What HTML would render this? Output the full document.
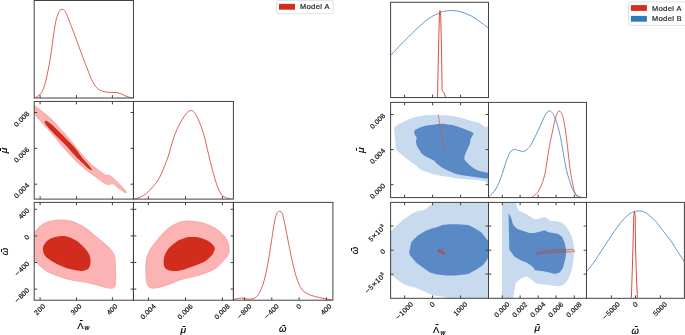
<!DOCTYPE html>
<html><head><meta charset="utf-8"><style>
html,body{margin:0;padding:0;background:#fff;width:685px;height:335px;overflow:hidden}
svg{display:block;will-change:transform}
svg{font-family:"Liberation Sans",sans-serif;font-size:6.50px}
</style></head><body>
<svg width="685" height="335" viewBox="0 0 685 335">
<rect width="685" height="335" fill="#fff"/>
<defs>
<clipPath id="L00"><rect x="34.20" y="0.50" width="99.25" height="97.50"/></clipPath>
<clipPath id="L10"><rect x="34.20" y="101.45" width="99.25" height="97.65"/></clipPath>
<clipPath id="L11"><rect x="133.45" y="101.45" width="99.95" height="97.65"/></clipPath>
<clipPath id="L20"><rect x="34.20" y="202.40" width="99.25" height="97.80"/></clipPath>
<clipPath id="L21"><rect x="133.45" y="202.40" width="99.95" height="97.80"/></clipPath>
<clipPath id="L22"><rect x="233.40" y="202.40" width="99.50" height="97.80"/></clipPath>
<clipPath id="R00"><rect x="390.60" y="2.30" width="97.90" height="95.25"/></clipPath>
<clipPath id="R10"><rect x="390.60" y="102.40" width="97.90" height="95.20"/></clipPath>
<clipPath id="R11"><rect x="488.50" y="102.40" width="98.00" height="95.20"/></clipPath>
<clipPath id="R20"><rect x="390.60" y="202.40" width="97.90" height="95.90"/></clipPath>
<clipPath id="R21"><rect x="488.50" y="202.40" width="98.00" height="95.90"/></clipPath>
<clipPath id="R22"><rect x="586.50" y="202.40" width="97.90" height="95.90"/></clipPath>
</defs>
<path clip-path="url(#L00)" d="M34.70,97.80 C35.20,97.55 36.57,97.18 37.70,96.30 C38.83,95.42 40.38,94.25 41.50,92.50 C42.62,90.75 43.42,88.90 44.40,85.80 C45.38,82.70 46.52,77.88 47.40,73.90 C48.28,69.92 49.02,65.88 49.70,61.90 C50.38,57.92 50.88,54.35 51.50,50.00 C52.12,45.65 52.72,40.40 53.40,35.80 C54.08,31.20 54.85,26.00 55.60,22.40 C56.35,18.80 57.15,16.20 57.90,14.20 C58.65,12.20 59.35,11.22 60.10,10.40 C60.85,9.58 61.65,9.25 62.40,9.30 C63.15,9.35 63.87,9.77 64.60,10.70 C65.33,11.63 65.93,12.95 66.80,14.90 C67.67,16.85 68.67,19.53 69.80,22.40 C70.93,25.27 72.10,28.12 73.60,32.10 C75.10,36.08 77.07,41.58 78.80,46.30 C80.53,51.02 82.63,56.80 84.00,60.40 C85.37,64.00 85.88,65.03 87.00,67.90 C88.12,70.77 89.33,74.62 90.70,77.60 C92.07,80.58 93.70,83.73 95.20,85.80 C96.70,87.87 98.08,89.00 99.70,90.00 C101.32,91.00 103.03,91.38 104.90,91.80 C106.77,92.22 108.92,92.38 110.90,92.50 C112.88,92.62 115.07,92.25 116.80,92.50 C118.53,92.75 119.80,93.42 121.30,94.00 C122.80,94.58 124.30,95.42 125.80,96.00 C127.30,96.58 129.05,97.20 130.30,97.50 C131.55,97.80 132.80,97.75 133.30,97.80" fill="none" stroke="#D8392A" stroke-width="0.80" stroke-linejoin="round"/>
<path clip-path="url(#L10)" d="M33.00,104.50 C33.22,103.43 33.18,104.58 34.30,105.40 C35.42,106.22 37.68,107.83 39.70,109.40 C41.72,110.97 44.17,112.90 46.40,114.80 C48.63,116.70 50.87,118.57 53.10,120.80 C55.33,123.03 57.55,125.73 59.80,128.20 C62.05,130.67 64.08,132.65 66.60,135.60 C69.12,138.55 72.27,142.68 74.90,145.90 C77.53,149.12 79.90,152.03 82.40,154.90 C84.90,157.77 87.80,161.00 89.90,163.10 C92.00,165.20 93.50,166.28 95.00,167.50 C96.50,168.72 97.58,169.42 98.90,170.40 C100.22,171.38 101.75,172.58 102.90,173.40 C104.05,174.22 104.98,175.05 105.80,175.30 C106.62,175.55 107.13,174.85 107.80,174.90 C108.47,174.95 108.98,175.12 109.80,175.60 C110.62,176.08 111.55,176.85 112.70,177.80 C113.85,178.75 115.38,180.07 116.70,181.30 C118.02,182.53 119.28,183.82 120.60,185.20 C121.92,186.58 123.62,188.42 124.60,189.60 C125.58,190.78 126.50,191.83 126.50,192.30 C126.50,192.77 125.58,192.85 124.60,192.40 C123.62,191.95 121.92,190.55 120.60,189.60 C119.28,188.65 117.93,187.68 116.70,186.70 C115.47,185.72 114.03,184.20 113.20,183.70 C112.37,183.20 112.27,183.57 111.70,183.70 C111.13,183.83 110.62,184.42 109.80,184.50 C108.98,184.58 107.95,184.58 106.80,184.20 C105.65,183.82 104.22,183.02 102.90,182.20 C101.58,181.38 100.22,180.28 98.90,179.30 C97.58,178.32 96.50,177.38 95.00,176.30 C93.50,175.22 92.00,174.38 89.90,172.80 C87.80,171.22 84.90,168.92 82.40,166.80 C79.90,164.68 77.38,162.58 74.90,160.10 C72.42,157.62 69.78,154.42 67.50,151.90 C65.22,149.38 62.70,146.72 61.20,145.00 C59.70,143.28 59.85,143.28 58.50,141.60 C57.15,139.92 55.12,137.25 53.10,134.90 C51.08,132.55 48.63,129.97 46.40,127.50 C44.17,125.03 41.72,122.45 39.70,120.10 C37.68,117.75 35.42,114.78 34.30,113.40 C33.18,112.02 33.22,113.28 33.00,111.80 C32.78,110.32 32.78,105.57 33.00,104.50 Z" fill="#FBB3B4" stroke="#F2998F" stroke-width="0.7"/>
<path clip-path="url(#L10)" d="M44.80,121.60 C45.07,121.22 45.42,120.38 46.60,120.90 C47.78,121.42 50.02,123.12 51.90,124.70 C53.78,126.28 55.90,128.45 57.90,130.40 C59.90,132.35 61.90,134.37 63.90,136.40 C65.90,138.43 67.92,140.50 69.90,142.60 C71.88,144.70 73.72,146.45 75.80,149.00 C77.88,151.55 80.28,155.27 82.40,157.90 C84.52,160.53 87.03,163.02 88.50,164.80 C89.97,166.58 90.57,167.70 91.20,168.60 C91.83,169.50 92.42,170.00 92.30,170.20 C92.18,170.40 91.30,170.20 90.50,169.80 C89.70,169.40 88.85,168.97 87.50,167.80 C86.15,166.63 84.35,164.70 82.40,162.80 C80.45,160.90 77.88,158.55 75.80,156.40 C73.72,154.25 71.88,152.03 69.90,149.90 C67.92,147.77 65.90,145.65 63.90,143.60 C61.90,141.55 59.90,139.60 57.90,137.60 C55.90,135.60 53.68,133.50 51.90,131.60 C50.12,129.70 48.35,127.60 47.20,126.20 C46.05,124.80 45.40,123.97 45.00,123.20 C44.60,122.43 44.53,121.98 44.80,121.60 Z" fill="#D12C1D"/>
<path clip-path="url(#L11)" d="M134.00,199.00 C134.33,198.93 134.95,198.90 136.00,198.60 C137.05,198.30 138.55,198.08 140.30,197.20 C142.05,196.32 144.43,195.00 146.50,193.30 C148.57,191.60 150.87,189.05 152.70,187.00 C154.53,184.95 156.03,183.25 157.50,181.00 C158.97,178.75 160.25,176.17 161.50,173.50 C162.75,170.83 163.80,168.08 165.00,165.00 C166.20,161.92 167.72,158.03 168.70,155.00 C169.68,151.97 170.03,149.78 170.90,146.80 C171.77,143.82 172.90,139.97 173.90,137.10 C174.90,134.23 175.78,132.08 176.90,129.60 C178.02,127.12 179.37,124.43 180.60,122.20 C181.83,119.97 183.07,117.95 184.30,116.20 C185.53,114.45 186.85,112.63 188.00,111.70 C189.15,110.77 190.17,110.53 191.20,110.60 C192.23,110.67 193.10,110.78 194.20,112.10 C195.30,113.42 196.70,116.27 197.80,118.50 C198.90,120.73 199.70,122.50 200.80,125.50 C201.90,128.50 203.30,132.50 204.40,136.50 C205.50,140.50 206.42,145.33 207.40,149.50 C208.38,153.67 209.32,157.55 210.30,161.50 C211.28,165.45 212.27,169.48 213.30,173.20 C214.33,176.92 215.43,180.75 216.50,183.80 C217.57,186.85 218.63,189.47 219.70,191.50 C220.77,193.53 221.55,194.85 222.90,196.00 C224.25,197.15 226.18,197.90 227.80,198.40 C229.42,198.90 231.80,198.90 232.60,199.00" fill="none" stroke="#D8392A" stroke-width="0.80" stroke-linejoin="round"/>
<path clip-path="url(#L20)" d="M32.00,234.00 C32.38,230.27 33.27,233.60 34.30,232.60 C35.33,231.60 36.52,229.55 38.20,228.00 C39.88,226.45 42.07,224.52 44.40,223.30 C46.73,222.08 49.35,221.27 52.20,220.70 C55.05,220.13 58.40,219.85 61.50,219.90 C64.60,219.95 67.95,220.30 70.80,221.00 C73.65,221.70 76.27,223.00 78.60,224.10 C80.93,225.20 82.97,226.43 84.80,227.60 C86.63,228.77 88.02,229.82 89.60,231.10 C91.18,232.38 92.72,234.00 94.30,235.30 C95.88,236.60 97.50,237.60 99.10,238.90 C100.70,240.20 102.30,241.70 103.90,243.10 C105.50,244.50 107.32,245.92 108.70,247.30 C110.08,248.68 111.22,249.85 112.20,251.40 C113.18,252.95 114.05,253.98 114.60,256.60 C115.15,259.22 115.32,263.80 115.50,267.10 C115.68,270.40 115.73,273.55 115.70,276.40 C115.67,279.25 115.62,282.33 115.30,284.20 C114.98,286.07 114.77,286.93 113.80,287.60 C112.83,288.27 111.43,288.38 109.50,288.20 C107.57,288.02 104.72,287.17 102.20,286.50 C99.68,285.83 96.98,284.85 94.40,284.20 C91.82,283.55 88.60,283.00 86.70,282.60 C84.80,282.20 84.87,282.12 83.00,281.80 C81.13,281.48 78.30,281.22 75.50,280.70 C72.70,280.18 69.32,279.55 66.20,278.70 C63.08,277.85 59.92,276.77 56.80,275.60 C53.68,274.43 50.08,273.12 47.50,271.70 C44.92,270.28 43.10,268.65 41.30,267.10 C39.50,265.55 37.87,263.95 36.70,262.40 C35.53,260.85 35.08,259.03 34.30,257.80 C33.52,256.57 32.38,258.97 32.00,255.00 C31.62,251.03 31.62,237.73 32.00,234.00 Z" fill="#FBB3B4" stroke="#F2998F" stroke-width="0.7"/>
<path clip-path="url(#L20)" d="M42.90,248.10 C43.17,245.97 44.45,243.58 46.00,241.90 C47.55,240.22 49.62,238.98 52.20,238.00 C54.78,237.02 58.65,236.12 61.50,236.00 C64.35,235.88 66.72,236.45 69.30,237.30 C71.88,238.15 74.72,239.58 77.00,241.10 C79.28,242.62 81.38,244.83 83.00,246.40 C84.62,247.97 85.57,248.87 86.70,250.50 C87.83,252.13 89.17,254.22 89.80,256.20 C90.43,258.18 90.63,260.45 90.50,262.40 C90.37,264.35 89.90,266.60 89.00,267.90 C88.10,269.20 86.27,269.68 85.10,270.20 C83.93,270.72 83.60,271.00 82.00,271.00 C80.40,271.00 78.13,270.72 75.50,270.20 C72.87,269.68 69.32,268.93 66.20,267.90 C63.08,266.87 59.65,265.43 56.80,264.00 C53.95,262.57 51.17,260.85 49.10,259.30 C47.03,257.75 45.43,256.57 44.40,254.70 C43.37,252.83 42.63,250.23 42.90,248.10 Z" fill="#D12C1D"/>
<path clip-path="url(#L21)" d="M145.80,268.60 C145.85,265.48 145.87,262.32 146.50,259.30 C147.13,256.28 148.05,253.40 149.60,250.50 C151.15,247.60 153.72,244.62 155.80,241.90 C157.88,239.18 159.77,236.65 162.10,234.20 C164.43,231.75 167.22,229.07 169.80,227.20 C172.38,225.33 175.57,223.92 177.60,223.00 C179.63,222.08 180.35,222.03 182.00,221.70 C183.65,221.37 184.98,220.98 187.50,221.00 C190.02,221.02 193.88,221.27 197.10,221.80 C200.32,222.33 203.57,223.00 206.80,224.20 C210.03,225.40 213.68,227.12 216.50,229.00 C219.32,230.88 221.82,233.35 223.70,235.50 C225.58,237.65 226.90,239.75 227.80,241.90 C228.70,244.05 229.02,246.30 229.10,248.40 C229.18,250.50 229.33,252.35 228.30,254.50 C227.27,256.65 224.87,259.10 222.90,261.30 C220.93,263.50 219.18,265.82 216.50,267.70 C213.82,269.58 210.57,271.12 206.80,272.60 C203.03,274.08 198.03,275.48 193.90,276.60 C189.77,277.72 185.75,278.17 182.00,279.30 C178.25,280.43 174.72,282.20 171.40,283.40 C168.08,284.60 164.70,285.73 162.10,286.50 C159.50,287.27 157.75,287.80 155.80,288.00 C153.85,288.20 151.82,288.33 150.40,287.70 C148.98,287.07 148.00,285.82 147.30,284.20 C146.60,282.58 146.45,280.60 146.20,278.00 C145.95,275.40 145.75,271.72 145.80,268.60 Z" fill="#FBB3B4" stroke="#F2998F" stroke-width="0.7"/>
<path clip-path="url(#L21)" d="M163.60,262.40 C163.47,260.45 163.75,258.27 164.40,256.20 C165.05,254.13 166.33,251.73 167.50,250.00 C168.67,248.27 169.72,247.28 171.40,245.80 C173.08,244.32 175.83,242.22 177.60,241.10 C179.37,239.98 180.08,239.77 182.00,239.10 C183.92,238.43 186.32,237.38 189.10,237.10 C191.88,236.82 195.75,236.87 198.70,237.40 C201.65,237.93 204.50,239.13 206.80,240.30 C209.10,241.47 211.15,243.05 212.50,244.40 C213.85,245.75 214.68,247.22 214.90,248.40 C215.12,249.58 214.35,250.30 213.80,251.50 C213.25,252.70 213.03,253.97 211.60,255.60 C210.17,257.23 208.15,259.55 205.20,261.30 C202.25,263.05 197.40,264.75 193.90,266.10 C190.40,267.45 187.18,268.58 184.20,269.40 C181.22,270.22 178.40,270.82 176.00,271.00 C173.60,271.18 171.60,271.02 169.80,270.50 C168.00,269.98 166.23,269.25 165.20,267.90 C164.17,266.55 163.73,264.35 163.60,262.40 Z" fill="#D12C1D"/>
<path clip-path="url(#L22)" d="M233.30,299.70 C233.95,299.52 235.77,298.87 237.20,298.60 C238.63,298.33 240.35,298.05 241.90,298.10 C243.45,298.15 244.70,298.77 246.50,298.90 C248.30,299.03 250.88,299.42 252.70,298.90 C254.52,298.38 255.97,297.48 257.40,295.80 C258.83,294.12 260.13,291.52 261.30,288.80 C262.47,286.08 263.37,283.38 264.40,279.50 C265.43,275.62 266.55,270.42 267.50,265.50 C268.45,260.58 269.42,254.18 270.10,250.00 C270.78,245.82 271.00,244.33 271.60,240.40 C272.20,236.47 272.97,230.55 273.70,226.40 C274.43,222.25 275.22,217.97 276.00,215.50 C276.78,213.03 277.75,212.32 278.40,211.60 C279.05,210.88 279.27,210.93 279.90,211.20 C280.53,211.47 281.62,212.12 282.20,213.20 C282.78,214.28 282.80,215.07 283.40,217.70 C284.00,220.33 284.98,224.97 285.80,229.00 C286.62,233.03 287.48,237.73 288.30,241.90 C289.12,246.07 290.03,250.77 290.70,254.00 C291.37,257.23 291.50,257.93 292.30,261.30 C293.10,264.67 294.30,270.17 295.50,274.20 C296.70,278.23 298.02,282.55 299.50,285.50 C300.98,288.45 302.38,290.23 304.40,291.90 C306.42,293.57 309.05,294.55 311.60,295.50 C314.15,296.45 317.00,296.98 319.70,297.60 C322.40,298.22 325.78,298.85 327.80,299.20 C329.82,299.55 331.13,299.62 331.80,299.70" fill="none" stroke="#D8392A" stroke-width="0.80" stroke-linejoin="round"/>
<path clip-path="url(#R00)" d="M390.00,55.50 C390.18,55.37 390.13,55.62 391.10,54.70 C392.07,53.78 394.25,51.62 395.80,50.00 C397.35,48.38 398.33,47.12 400.40,45.00 C402.47,42.88 405.60,39.88 408.20,37.30 C410.80,34.72 413.42,31.97 416.00,29.50 C418.58,27.03 421.12,24.62 423.70,22.50 C426.28,20.38 429.45,18.13 431.50,16.80 C433.55,15.47 434.72,15.10 436.00,14.50 C437.28,13.90 438.12,13.68 439.20,13.20 C440.28,12.72 440.35,12.05 442.50,11.60 C444.65,11.15 448.88,10.42 452.10,10.50 C455.32,10.58 458.57,11.17 461.80,12.10 C465.03,13.03 468.27,14.35 471.50,16.10 C474.73,17.85 478.38,20.58 481.20,22.60 C484.02,24.62 487.20,27.27 488.40,28.20" fill="none" stroke="#3680C6" stroke-width="0.80" stroke-linejoin="round"/>
<path clip-path="url(#R00)" d="M437.50,97.50 L438.40,54.00 L439.40,15.00 L440.00,10.50 L440.70,15.00 L441.60,54.00 L442.10,90.30 L444.00,92.70 L445.70,97.50" fill="none" stroke="#D8392A" stroke-width="0.90" stroke-linejoin="round"/>
<path clip-path="url(#R10)" d="M395.00,138.80 C394.73,135.82 394.07,130.77 394.20,128.70 C394.33,126.63 394.77,127.30 395.80,126.40 C396.83,125.50 398.33,124.47 400.40,123.30 C402.47,122.13 405.60,120.43 408.20,119.40 C410.80,118.37 413.42,117.75 416.00,117.10 C418.58,116.45 421.12,115.83 423.70,115.50 C426.28,115.17 428.78,115.15 431.50,115.10 C434.22,115.05 437.90,115.17 440.00,115.20 C442.10,115.23 442.08,115.15 444.10,115.30 C446.12,115.45 449.15,115.63 452.10,116.10 C455.05,116.57 458.57,117.28 461.80,118.10 C465.03,118.92 468.82,120.25 471.50,121.00 C474.18,121.75 476.28,122.07 477.90,122.60 C479.52,123.13 479.85,123.40 481.20,124.20 C482.55,125.00 484.53,126.67 486.00,127.40 C487.47,128.13 489.33,119.55 490.00,128.60 C490.67,137.65 490.93,172.97 490.00,181.70 C489.07,190.43 486.95,181.32 484.40,181.00 C481.85,180.68 477.93,180.13 474.70,179.80 C471.47,179.47 468.22,179.27 465.00,179.00 C461.78,178.73 458.62,178.60 455.40,178.20 C452.18,177.80 448.93,177.13 445.70,176.60 C442.47,176.07 438.12,175.42 436.00,175.00 C433.88,174.58 434.53,174.65 433.00,174.10 C431.47,173.55 428.87,172.48 426.80,171.70 C424.73,170.92 422.40,170.43 420.60,169.40 C418.80,168.37 417.82,166.92 416.00,165.50 C414.18,164.08 411.78,162.45 409.70,160.90 C407.62,159.35 405.30,157.63 403.50,156.20 C401.70,154.77 400.07,153.33 398.90,152.30 C397.73,151.27 397.02,150.95 396.50,150.00 C395.98,149.05 396.05,148.47 395.80,146.60 C395.55,144.73 395.27,141.78 395.00,138.80 Z" fill="#C7DAEE"/>
<path clip-path="url(#R10)" d="M414.40,131.00 C415.03,129.72 416.93,128.90 419.00,128.00 C421.07,127.10 424.20,126.20 426.80,125.60 C429.40,125.00 432.40,124.65 434.60,124.40 C436.80,124.15 438.42,124.18 440.00,124.10 C441.58,124.02 442.08,123.75 444.10,123.90 C446.12,124.05 449.42,124.42 452.10,125.00 C454.78,125.58 457.50,126.47 460.20,127.40 C462.90,128.33 466.15,129.65 468.30,130.60 C470.45,131.55 472.30,132.42 473.10,133.10 C473.90,133.78 473.50,133.77 473.10,134.70 C472.70,135.63 471.23,137.23 470.70,138.70 C470.17,140.17 470.38,141.88 469.90,143.50 C469.42,145.12 468.40,147.07 467.80,148.40 C467.20,149.73 466.77,150.40 466.30,151.50 C465.83,152.60 465.32,153.77 465.00,155.00 C464.68,156.23 463.98,157.58 464.40,158.90 C464.82,160.22 466.05,161.43 467.50,162.90 C468.95,164.37 471.10,166.35 473.10,167.70 C475.10,169.05 476.68,170.02 479.50,171.00 C482.32,171.98 488.25,172.38 490.00,173.60 C491.75,174.82 492.02,177.67 490.00,178.30 C487.98,178.93 481.52,177.77 477.90,177.40 C474.28,177.03 471.78,176.63 468.30,176.10 C464.82,175.57 460.23,175.05 457.00,174.20 C453.77,173.35 451.32,172.08 448.90,171.00 C446.48,169.92 444.65,169.05 442.50,167.70 C440.35,166.35 437.32,164.03 436.00,162.90 C434.68,161.77 435.87,161.75 434.60,160.90 C433.33,160.05 430.47,158.97 428.40,157.80 C426.33,156.63 423.63,155.12 422.20,153.90 C420.77,152.68 420.58,151.65 419.80,150.50 C419.02,149.35 418.13,148.43 417.50,147.00 C416.87,145.57 416.13,143.52 416.00,141.90 C415.87,140.28 416.83,138.33 416.70,137.30 C416.57,136.27 415.58,136.75 415.20,135.70 C414.82,134.65 413.77,132.28 414.40,131.00 Z" fill="#5A8AC5"/>
<path clip-path="url(#R10)" d="M438.30,114.30 C438.52,115.75 439.12,120.05 439.60,123.00 C440.08,125.95 440.65,129.00 441.20,132.00 C441.75,135.00 442.32,137.87 442.90,141.00 C443.48,144.13 444.40,149.17 444.70,150.80" fill="none" stroke="#D9503F" stroke-width="0.65" stroke-linejoin="round"/>
<path clip-path="url(#R11)" d="M489.10,196.60 C489.88,195.82 492.38,193.72 493.80,191.90 C495.22,190.08 496.43,188.02 497.60,185.70 C498.77,183.38 499.75,180.85 500.80,178.00 C501.85,175.15 502.87,171.72 503.90,168.60 C504.93,165.48 505.97,162.02 507.00,159.30 C508.03,156.58 508.97,153.92 510.10,152.30 C511.23,150.68 512.57,149.95 513.80,149.60 C515.03,149.25 516.22,149.93 517.50,150.20 C518.78,150.47 520.25,151.08 521.50,151.20 C522.75,151.32 523.75,151.52 525.00,150.90 C526.25,150.28 527.85,148.80 529.00,147.50 C530.15,146.20 530.92,144.83 531.90,143.10 C532.88,141.37 533.90,139.10 534.90,137.10 C535.90,135.10 536.90,133.22 537.90,131.10 C538.90,128.98 539.90,126.63 540.90,124.40 C541.90,122.17 542.90,119.68 543.90,117.70 C544.90,115.72 546.03,113.62 546.90,112.50 C547.77,111.38 548.37,111.13 549.10,111.00 C549.83,110.87 550.43,110.83 551.30,111.70 C552.17,112.57 553.30,114.08 554.30,116.20 C555.30,118.32 556.30,121.05 557.30,124.40 C558.30,127.75 559.43,132.32 560.30,136.30 C561.17,140.28 561.92,145.02 562.50,148.30 C563.08,151.58 563.17,152.48 563.80,156.00 C564.43,159.52 565.35,165.30 566.30,169.40 C567.25,173.50 568.43,177.25 569.50,180.60 C570.57,183.95 571.50,187.07 572.70,189.50 C573.90,191.93 575.08,193.85 576.70,195.20 C578.32,196.55 580.85,197.13 582.40,197.60 C583.95,198.07 585.40,197.93 586.00,198.00" fill="none" stroke="#3680C6" stroke-width="0.80" stroke-linejoin="round"/>
<path clip-path="url(#R11)" d="M530.00,198.00 C530.30,197.90 530.98,197.90 531.80,197.40 C532.62,196.90 533.93,195.85 534.90,195.00 C535.87,194.15 536.53,193.88 537.60,192.30 C538.67,190.72 540.15,188.25 541.30,185.50 C542.45,182.75 543.67,179.05 544.50,175.80 C545.33,172.55 545.83,168.80 546.30,166.00 C546.77,163.20 546.98,161.08 547.30,159.00 C547.62,156.92 547.87,155.47 548.20,153.50 C548.53,151.53 548.93,149.25 549.30,147.20 C549.67,145.15 549.93,143.50 550.40,141.20 C550.87,138.90 551.45,136.45 552.10,133.40 C552.75,130.35 553.55,126.02 554.30,122.90 C555.05,119.78 555.85,116.68 556.60,114.70 C557.35,112.72 558.07,111.37 558.80,111.00 C559.53,110.63 560.25,111.27 561.00,112.50 C561.75,113.73 562.58,115.57 563.30,118.40 C564.02,121.23 564.75,126.07 565.30,129.50 C565.85,132.93 566.23,136.17 566.60,139.00 C566.97,141.83 567.22,144.00 567.50,146.50 C567.78,149.00 568.03,151.58 568.30,154.00 C568.57,156.42 568.77,158.17 569.10,161.00 C569.43,163.83 569.70,167.18 570.30,171.00 C570.90,174.82 571.90,180.15 572.70,183.90 C573.50,187.65 574.15,191.22 575.10,193.50 C576.05,195.78 577.25,196.80 578.40,197.60 C579.55,198.40 581.40,198.18 582.00,198.30" fill="none" stroke="#D8392A" stroke-width="0.80" stroke-linejoin="round"/>
<path clip-path="url(#R20)" d="M388.00,234.00 L390.30,231.80 L395.80,226.40 L403.50,219.40 L411.30,214.00 L417.50,210.90 L422.20,210.60 L425.30,209.30 L429.90,205.40 L433.00,203.40 L435.50,200.00 L490.00,200.00 L490.00,300.00 L445.70,300.00 L445.70,297.60 L440.00,296.30 L436.10,295.80 L429.90,294.30 L422.20,290.40 L414.40,287.30 L405.10,284.90 L398.90,281.10 L394.20,277.20 L390.30,274.80 L388.00,273.50 Z" fill="#C7DAEE"/>
<path clip-path="url(#R20)" d="M409.20,252.00 L411.30,241.90 L417.50,235.70 L425.30,231.10 L433.00,228.00 L436.00,227.40 L442.50,225.00 L448.90,224.20 L457.00,224.20 L468.30,225.00 L474.70,228.20 L481.20,232.30 L484.40,236.30 L487.60,240.30 L490.00,242.00 L490.00,255.00 L486.00,261.30 L482.80,265.30 L476.30,269.40 L468.30,273.90 L455.40,275.50 L445.70,275.50 L436.00,274.20 L429.90,272.50 L422.20,267.10 L416.00,262.40 L409.70,254.70 Z" fill="#5A8AC5"/>
<path clip-path="url(#R20)" d="M437.80,250.20 C438.07,249.83 438.88,249.25 439.50,249.20 C440.12,249.15 440.83,249.52 441.50,249.90 C442.17,250.28 442.92,250.78 443.50,251.50 C444.08,252.22 444.98,253.68 445.00,254.20 C445.02,254.72 444.18,254.70 443.60,254.60 C443.02,254.50 442.23,253.93 441.50,253.60 C440.77,253.27 439.80,252.97 439.20,252.60 C438.60,252.23 438.13,251.80 437.90,251.40 C437.67,251.00 437.53,250.57 437.80,250.20 Z" fill="#D42C1E" fill-opacity="0.45" stroke="#D8392A" stroke-width="0.5"/>
<circle cx="443.4" cy="248.4" r="0.5" fill="#D8392A" opacity="0.7"/>
<path clip-path="url(#R21)" d="M502.00,200.00 L516.10,200.00 L516.30,203.00 L517.00,207.80 L519.40,210.90 L524.80,213.20 L531.00,217.10 L534.00,219.00 L538.00,219.00 L543.70,216.90 L546.90,217.70 L550.10,221.00 L556.60,221.30 L561.40,222.60 L565.50,225.80 L568.70,230.60 L571.90,237.10 L573.50,243.50 L574.30,250.00 L573.50,259.70 L571.90,269.40 L568.70,278.20 L564.60,283.90 L559.80,286.30 L553.40,285.80 L546.90,284.70 L540.50,283.90 L536.00,283.60 L534.10,281.80 L530.30,278.70 L527.10,276.40 L523.30,277.20 L518.60,280.30 L515.50,283.40 L514.70,288.80 L513.50,296.00 L513.00,300.00 L502.00,300.00 Z" fill="#C7DAEE"/>
<path clip-path="url(#R21)" d="M508.50,213.20 L510.80,217.10 L513.20,224.80 L517.00,228.70 L523.30,231.10 L529.50,232.90 L534.00,233.10 L540.50,231.50 L544.50,230.30 L548.50,232.30 L553.40,233.10 L558.20,233.90 L562.20,237.10 L564.60,242.70 L565.90,248.40 L566.30,252.00 L565.50,258.10 L563.00,267.70 L559.80,272.60 L555.00,273.90 L548.50,272.30 L542.10,271.00 L535.00,270.20 L534.10,268.60 L531.00,265.50 L526.40,262.40 L520.20,260.10 L514.00,256.20 L510.80,251.60 L509.30,249.50 Z" fill="#5A8AC5"/>
<path clip-path="url(#R21)" d="M536.90,252.80 C537.48,252.35 539.32,251.98 541.00,251.60 C542.68,251.22 544.93,250.82 547.00,250.50 C549.07,250.18 550.77,249.83 553.40,249.70 C556.03,249.57 560.37,249.73 562.80,249.70 C565.23,249.67 566.42,249.55 568.00,249.50 C569.58,249.45 571.20,249.22 572.30,249.40 C573.40,249.58 574.35,250.22 574.60,250.60 C574.85,250.98 575.15,251.45 573.80,251.70 C572.45,251.95 568.97,252.00 566.50,252.10 C564.03,252.20 561.43,252.22 559.00,252.30 C556.57,252.38 554.23,252.47 551.90,252.60 C549.57,252.73 546.95,252.92 545.00,253.10 C543.05,253.28 541.45,253.50 540.20,253.70 C538.95,253.90 538.05,254.45 537.50,254.30 C536.95,254.15 536.32,253.25 536.90,252.80 Z" fill="#D42C1E" fill-opacity="0.15" stroke="#D8392A" stroke-width="0.5"/>
<circle cx="541.3" cy="248.5" r="0.5" fill="#D8392A" opacity="0.6"/>
<circle cx="538" cy="254.4" r="0.6" fill="#D8392A" opacity="0.6"/>
<path clip-path="url(#R22)" d="M586.00,272.50 C586.18,272.25 585.62,272.93 587.10,271.00 C588.58,269.07 592.53,264.23 594.90,260.90 C597.27,257.57 599.23,254.17 601.30,251.00 C603.37,247.83 605.00,245.35 607.30,241.90 C609.60,238.45 612.52,233.92 615.10,230.30 C617.68,226.68 620.48,222.87 622.80,220.20 C625.12,217.53 627.47,215.60 629.00,214.30 C630.53,213.00 631.08,212.85 632.00,212.40 C632.92,211.95 633.72,211.82 634.50,211.60 C635.28,211.38 635.40,211.13 636.70,211.10 C638.00,211.07 640.45,210.88 642.30,211.40 C644.15,211.92 645.57,212.53 647.80,214.20 C650.03,215.87 653.07,218.50 655.70,221.40 C658.33,224.30 660.95,228.18 663.60,231.60 C666.25,235.02 669.37,238.75 671.60,241.90 C673.83,245.05 674.85,247.15 677.00,250.50 C679.15,253.85 683.25,260.08 684.50,262.00" fill="none" stroke="#3680C6" stroke-width="0.80" stroke-linejoin="round"/>
<path clip-path="url(#R22)" d="M631.40,297.80 L632.60,260.00 L633.80,216.00 L634.50,211.30 L635.20,216.00 L635.60,250.00 L636.50,280.00 L637.50,297.80" fill="none" stroke="#D8392A" stroke-width="0.90" stroke-linejoin="round"/>
<rect x="34.20" y="0.50" width="99.25" height="97.50" fill="none" stroke="#424242" stroke-width="1"/>
<path d="M40.10,98.00v-2.90 M76.45,98.00v-2.90 M112.40,98.00v-2.90" stroke="#424242" stroke-width="1" fill="none"/>
<rect x="34.20" y="101.45" width="99.25" height="97.65" fill="none" stroke="#424242" stroke-width="1"/>
<path d="M40.10,199.10v-2.90 M40.10,101.45v2.90 M76.45,199.10v-2.90 M76.45,101.45v2.90 M112.40,199.10v-2.90 M112.40,101.45v2.90 M34.20,112.50h2.90 M133.45,112.50h-2.90 M34.20,148.40h2.90 M133.45,148.40h-2.90 M34.20,184.20h2.90 M133.45,184.20h-2.90" stroke="#424242" stroke-width="1" fill="none"/>
<rect x="133.45" y="101.45" width="99.95" height="97.65" fill="none" stroke="#424242" stroke-width="1"/>
<path d="M148.40,199.10v-2.90 M185.50,199.10v-2.90 M222.40,199.10v-2.90" stroke="#424242" stroke-width="1" fill="none"/>
<rect x="34.20" y="202.40" width="99.25" height="97.80" fill="none" stroke="#424242" stroke-width="1"/>
<path d="M40.10,300.20v-2.90 M40.10,202.40v2.90 M76.45,300.20v-2.90 M76.45,202.40v2.90 M112.40,300.20v-2.90 M112.40,202.40v2.90 M34.20,209.30h2.90 M133.45,209.30h-2.90 M34.20,235.90h2.90 M133.45,235.90h-2.90 M34.20,262.50h2.90 M133.45,262.50h-2.90 M34.20,289.10h2.90 M133.45,289.10h-2.90" stroke="#424242" stroke-width="1" fill="none"/>
<rect x="133.45" y="202.40" width="99.95" height="97.80" fill="none" stroke="#424242" stroke-width="1"/>
<path d="M148.40,300.20v-2.90 M148.40,202.40v2.90 M185.50,300.20v-2.90 M185.50,202.40v2.90 M222.40,300.20v-2.90 M222.40,202.40v2.90 M133.45,209.30h2.90 M233.40,209.30h-2.90 M133.45,235.90h2.90 M233.40,235.90h-2.90 M133.45,262.50h2.90 M233.40,262.50h-2.90 M133.45,289.10h2.90 M233.40,289.10h-2.90" stroke="#424242" stroke-width="1" fill="none"/>
<rect x="233.40" y="202.40" width="99.50" height="97.80" fill="none" stroke="#424242" stroke-width="1"/>
<path d="M244.50,300.20v-2.90 M271.80,300.20v-2.90 M299.10,300.20v-2.90 M326.40,300.20v-2.90" stroke="#424242" stroke-width="1" fill="none"/>
<rect x="390.60" y="2.30" width="97.90" height="95.25" fill="none" stroke="#424242" stroke-width="1"/>
<path d="M404.60,97.55v-2.90 M432.60,97.55v-2.90 M460.60,97.55v-2.90" stroke="#424242" stroke-width="1" fill="none"/>
<rect x="390.60" y="102.40" width="97.90" height="95.20" fill="none" stroke="#424242" stroke-width="1"/>
<path d="M404.60,197.60v-2.90 M404.60,102.40v2.90 M432.60,197.60v-2.90 M432.60,102.40v2.90 M460.60,197.60v-2.90 M460.60,102.40v2.90 M390.60,114.50h2.90 M488.50,114.50h-2.90 M390.60,149.60h2.90 M488.50,149.60h-2.90 M390.60,184.70h2.90 M488.50,184.70h-2.90" stroke="#424242" stroke-width="1" fill="none"/>
<rect x="488.50" y="102.40" width="98.00" height="95.20" fill="none" stroke="#424242" stroke-width="1"/>
<path d="M502.30,197.60v-2.90 M520.10,197.60v-2.90 M538.20,197.60v-2.90 M556.10,197.60v-2.90 M574.30,197.60v-2.90" stroke="#424242" stroke-width="1" fill="none"/>
<rect x="390.60" y="202.40" width="97.90" height="95.90" fill="none" stroke="#424242" stroke-width="1"/>
<path d="M404.60,298.30v-2.90 M404.60,202.40v2.90 M432.60,298.30v-2.90 M432.60,202.40v2.90 M460.60,298.30v-2.90 M460.60,202.40v2.90 M390.60,226.00h2.90 M488.50,226.00h-2.90 M390.60,250.20h2.90 M488.50,250.20h-2.90 M390.60,274.10h2.90 M488.50,274.10h-2.90" stroke="#424242" stroke-width="1" fill="none"/>
<rect x="488.50" y="202.40" width="98.00" height="95.90" fill="none" stroke="#424242" stroke-width="1"/>
<path d="M502.30,298.30v-2.90 M502.30,202.40v2.90 M520.10,298.30v-2.90 M520.10,202.40v2.90 M538.20,298.30v-2.90 M538.20,202.40v2.90 M556.10,298.30v-2.90 M556.10,202.40v2.90 M574.30,298.30v-2.90 M574.30,202.40v2.90 M488.50,226.00h2.90 M586.50,226.00h-2.90 M488.50,250.20h2.90 M586.50,250.20h-2.90 M488.50,274.10h2.90 M586.50,274.10h-2.90" stroke="#424242" stroke-width="1" fill="none"/>
<rect x="586.50" y="202.40" width="97.90" height="95.90" fill="none" stroke="#424242" stroke-width="1"/>
<path d="M611.40,298.30v-2.90 M635.60,298.30v-2.90 M660.40,298.30v-2.90" stroke="#424242" stroke-width="1" fill="none"/>
<g transform="translate(36.98,315.47) rotate(-45.0)" font-size="6.89" fill="#111" stroke="#111" stroke-width="0.20"><text x="0.14" textLength="3.67" lengthAdjust="spacingAndGlyphs">2</text><text x="4.30">0</text><text x="8.43">0</text></g>
<g transform="translate(73.33,315.47) rotate(-45.0)" font-size="6.89" fill="#111" stroke="#111" stroke-width="0.20"><text x="0.24" textLength="3.66" lengthAdjust="spacingAndGlyphs">3</text><text x="4.30">0</text><text x="8.43">0</text></g>
<g transform="translate(109.28,315.47) rotate(-45.0)" font-size="6.89" fill="#111" stroke="#111" stroke-width="0.20"><text x="0.16">4</text><text x="4.30">0</text><text x="8.43">0</text></g>
<g transform="translate(143.08,319.85) rotate(-45.0)" font-size="6.89" fill="#111" stroke="#111" stroke-width="0.20"><text x="0.16">0</text><text x="4.19">.</text><text x="6.36">0</text><text x="10.50">0</text><text x="14.63">4</text></g>
<g transform="translate(180.18,319.85) rotate(-45.0)" font-size="6.89" fill="#111" stroke="#111" stroke-width="0.20"><text x="0.16">0</text><text x="4.19">.</text><text x="6.36">0</text><text x="10.50">0</text><text x="14.57">6</text></g>
<g transform="translate(217.08,319.85) rotate(-45.0)" font-size="6.89" fill="#111" stroke="#111" stroke-width="0.20"><text x="0.16">0</text><text x="4.19">.</text><text x="6.36">0</text><text x="10.50">0</text><text x="14.61">8</text></g>
<g transform="translate(239.45,319.32) rotate(-45.0)" font-size="6.89" fill="#111" stroke="#111" stroke-width="0.20"><text x="0.28" textLength="4.89" lengthAdjust="spacingAndGlyphs">−</text><text x="5.59">8</text><text x="9.74">0</text><text x="13.88">0</text></g>
<g transform="translate(266.75,319.32) rotate(-45.0)" font-size="6.89" fill="#111" stroke="#111" stroke-width="0.20"><text x="0.28" textLength="4.89" lengthAdjust="spacingAndGlyphs">−</text><text x="5.61">4</text><text x="9.74">0</text><text x="13.88">0</text></g>
<g transform="translate(298.90,309.62) rotate(-45.0)" font-size="6.89" fill="#111" stroke="#111" stroke-width="0.20"><text x="0.16">0</text></g>
<g transform="translate(323.28,315.47) rotate(-45.0)" font-size="6.89" fill="#111" stroke="#111" stroke-width="0.20"><text x="0.16">4</text><text x="4.30">0</text><text x="8.43">0</text></g>
<g transform="translate(398.09,320.24) rotate(-45.0)" font-size="6.89" fill="#111" stroke="#111" stroke-width="0.20"><text x="0.28" textLength="4.89" lengthAdjust="spacingAndGlyphs">−</text><text x="5.66" textLength="3.64" lengthAdjust="spacingAndGlyphs">1</text><text x="9.74">0</text><text x="13.88">0</text><text x="18.01">0</text></g>
<g transform="translate(432.40,307.62) rotate(-45.0)" font-size="6.89" fill="#111" stroke="#111" stroke-width="0.20"><text x="0.16">0</text></g>
<g transform="translate(456.02,316.39) rotate(-45.0)" font-size="6.89" fill="#111" stroke="#111" stroke-width="0.20"><text x="0.22" textLength="3.64" lengthAdjust="spacingAndGlyphs">1</text><text x="4.30">0</text><text x="8.43">0</text><text x="12.57">0</text></g>
<g transform="translate(496.98,317.85) rotate(-45.0)" font-size="6.89" fill="#111" stroke="#111" stroke-width="0.20"><text x="0.16">0</text><text x="4.19">.</text><text x="6.36">0</text><text x="10.50">0</text><text x="14.63">0</text></g>
<g transform="translate(514.78,317.85) rotate(-45.0)" font-size="6.89" fill="#111" stroke="#111" stroke-width="0.20"><text x="0.16">0</text><text x="4.19">.</text><text x="6.36">0</text><text x="10.50">0</text><text x="14.62" textLength="3.67" lengthAdjust="spacingAndGlyphs">2</text></g>
<g transform="translate(532.88,317.85) rotate(-45.0)" font-size="6.89" fill="#111" stroke="#111" stroke-width="0.20"><text x="0.16">0</text><text x="4.19">.</text><text x="6.36">0</text><text x="10.50">0</text><text x="14.63">4</text></g>
<g transform="translate(550.78,317.85) rotate(-45.0)" font-size="6.89" fill="#111" stroke="#111" stroke-width="0.20"><text x="0.16">0</text><text x="4.19">.</text><text x="6.36">0</text><text x="10.50">0</text><text x="14.57">6</text></g>
<g transform="translate(568.98,317.85) rotate(-45.0)" font-size="6.89" fill="#111" stroke="#111" stroke-width="0.20"><text x="0.16">0</text><text x="4.19">.</text><text x="6.36">0</text><text x="10.50">0</text><text x="14.61">8</text></g>
<g transform="translate(604.89,320.24) rotate(-45.0)" font-size="6.89" fill="#111" stroke="#111" stroke-width="0.20"><text x="0.28" textLength="4.89" lengthAdjust="spacingAndGlyphs">−</text><text x="5.69" textLength="3.60" lengthAdjust="spacingAndGlyphs">5</text><text x="9.74">0</text><text x="13.88">0</text><text x="18.01">0</text></g>
<g transform="translate(635.40,307.62) rotate(-45.0)" font-size="6.89" fill="#111" stroke="#111" stroke-width="0.20"><text x="0.16">0</text></g>
<g transform="translate(655.82,316.39) rotate(-45.0)" font-size="6.89" fill="#111" stroke="#111" stroke-width="0.20"><text x="0.24" textLength="3.60" lengthAdjust="spacingAndGlyphs">5</text><text x="4.30">0</text><text x="8.43">0</text><text x="12.57">0</text></g>
<g transform="translate(29.80,114.10) rotate(-45.0)" font-size="6.89" fill="#111" stroke="#111" stroke-width="0.20"><text x="-18.45">0</text><text x="-14.42">.</text><text x="-12.25">0</text><text x="-8.11">0</text><text x="-4.00">8</text></g>
<g transform="translate(29.80,150.00) rotate(-45.0)" font-size="6.89" fill="#111" stroke="#111" stroke-width="0.20"><text x="-18.45">0</text><text x="-14.42">.</text><text x="-12.25">0</text><text x="-8.11">0</text><text x="-4.04">6</text></g>
<g transform="translate(29.80,185.80) rotate(-45.0)" font-size="6.89" fill="#111" stroke="#111" stroke-width="0.20"><text x="-18.45">0</text><text x="-14.42">.</text><text x="-12.25">0</text><text x="-8.11">0</text><text x="-3.98">4</text></g>
<g transform="translate(29.80,210.90) rotate(-45.0)" font-size="6.89" fill="#111" stroke="#111" stroke-width="0.20"><text x="-12.25">4</text><text x="-8.11">0</text><text x="-3.97">0</text></g>
<g transform="translate(29.80,237.50) rotate(-45.0)" font-size="6.89" fill="#111" stroke="#111" stroke-width="0.20"><text x="-3.97">0</text></g>
<g transform="translate(29.80,264.10) rotate(-45.0)" font-size="6.89" fill="#111" stroke="#111" stroke-width="0.20"><text x="-17.58" textLength="4.89" lengthAdjust="spacingAndGlyphs">−</text><text x="-12.25">4</text><text x="-8.11">0</text><text x="-3.97">0</text></g>
<g transform="translate(29.80,290.70) rotate(-45.0)" font-size="6.89" fill="#111" stroke="#111" stroke-width="0.20"><text x="-17.58" textLength="4.89" lengthAdjust="spacingAndGlyphs">−</text><text x="-12.27">8</text><text x="-8.11">0</text><text x="-3.97">0</text></g>
<g transform="translate(385.80,116.10) rotate(-45.0)" font-size="6.89" fill="#111" stroke="#111" stroke-width="0.20"><text x="-18.45">0</text><text x="-14.42">.</text><text x="-12.25">0</text><text x="-8.11">0</text><text x="-4.00">8</text></g>
<g transform="translate(385.80,151.20) rotate(-45.0)" font-size="6.89" fill="#111" stroke="#111" stroke-width="0.20"><text x="-18.45">0</text><text x="-14.42">.</text><text x="-12.25">0</text><text x="-8.11">0</text><text x="-3.98">4</text></g>
<g transform="translate(385.80,186.30) rotate(-45.0)" font-size="6.89" fill="#111" stroke="#111" stroke-width="0.20"><text x="-18.45">0</text><text x="-14.42">.</text><text x="-12.25">0</text><text x="-8.11">0</text><text x="-3.97">0</text></g>
<g transform="translate(385.80,251.80) rotate(-45.0)" font-size="6.89" fill="#111" stroke="#111" stroke-width="0.20"><text x="-3.97">0</text></g>
<g transform="translate(383.75,229.65) rotate(-45.0)" font-size="6.89" fill="#111" stroke="#111" stroke-width="0.20"><text x="-17.61" textLength="3.60" lengthAdjust="spacingAndGlyphs">5</text><text x="-13.40" textLength="4.80" lengthAdjust="spacingAndGlyphs">×</text><text x="-8.06" textLength="3.64" lengthAdjust="spacingAndGlyphs">1</text><text x="-3.97">0</text></g>
<g transform="translate(383.87,225.67) rotate(-45.0)" font-size="4.82" fill="#111" stroke="#111" stroke-width="0.20"><text x="-2.72" textLength="2.56" lengthAdjust="spacingAndGlyphs">3</text></g>
<g transform="translate(383.75,277.75) rotate(-45.0)" font-size="6.89" fill="#111" stroke="#111" stroke-width="0.20"><text x="-23.02" textLength="4.89" lengthAdjust="spacingAndGlyphs">−</text><text x="-17.61" textLength="3.60" lengthAdjust="spacingAndGlyphs">5</text><text x="-13.40" textLength="4.80" lengthAdjust="spacingAndGlyphs">×</text><text x="-8.06" textLength="3.64" lengthAdjust="spacingAndGlyphs">1</text><text x="-3.97">0</text></g>
<g transform="translate(383.87,273.77) rotate(-45.0)" font-size="4.82" fill="#111" stroke="#111" stroke-width="0.20"><text x="-2.72" textLength="2.56" lengthAdjust="spacingAndGlyphs">3</text></g>
<g transform="translate(7.40,150.30) rotate(-90.0)">
<g transform="translate(0.00,0.00)" font-size="9.96" fill="#000" stroke="#000" stroke-width="0.20" font-style="italic"><text x="-2.90" textLength="5.64" lengthAdjust="spacingAndGlyphs">μ</text></g>
</g>
<rect x="0" y="148.16" width="1" height="2.82" fill="#000"/>
<g transform="translate(8.30,251.50) rotate(-90.0)">
<g transform="translate(0.00,0.00)" font-size="9.96" fill="#000" stroke="#000" stroke-width="0.20" font-style="italic"><text x="-3.73" textLength="7.41" lengthAdjust="spacingAndGlyphs">ω</text></g>
</g>
<rect x="1" y="249.11" width="1" height="2.82" fill="#000"/>
<g transform="translate(77.22,328.60)" font-size="9.96" fill="#000" stroke="#000" stroke-width="0.20"><text x="0.03" textLength="6.37" lengthAdjust="spacingAndGlyphs">Λ</text></g>
<g transform="translate(84.40,330.20)" font-size="6.97" fill="#000" stroke="#000" stroke-width="0.20" font-style="italic"><text x="0.23" textLength="4.80" lengthAdjust="spacingAndGlyphs">w</text></g>
<rect x="79.87" y="320" width="2.73" height="1" fill="#000"/>
<g transform="translate(183.30,333.40)">
<g transform="translate(0.00,0.00)" font-size="9.96" fill="#000" stroke="#000" stroke-width="0.20" font-style="italic"><text x="-2.90" textLength="5.64" lengthAdjust="spacingAndGlyphs">μ</text></g>
</g>
<rect x="182.62" y="326" width="2.82" height="1" fill="#000"/>
<g transform="translate(282.80,332.40)">
<g transform="translate(0.00,0.00)" font-size="9.96" fill="#000" stroke="#000" stroke-width="0.20" font-style="italic"><text x="-3.73" textLength="7.41" lengthAdjust="spacingAndGlyphs">ω</text></g>
</g>
<rect x="282.37" y="325" width="2.82" height="1" fill="#000"/>
<g transform="translate(363.80,150.10) rotate(-90.0)">
<g transform="translate(0.00,0.00)" font-size="9.96" fill="#000" stroke="#000" stroke-width="0.20" font-style="italic"><text x="-2.90" textLength="5.64" lengthAdjust="spacingAndGlyphs">μ</text></g>
</g>
<rect x="356" y="147.96" width="1" height="2.82" fill="#000"/>
<g transform="translate(358.10,250.50) rotate(-90.0)">
<g transform="translate(0.00,0.00)" font-size="9.96" fill="#000" stroke="#000" stroke-width="0.20" font-style="italic"><text x="-3.73" textLength="7.41" lengthAdjust="spacingAndGlyphs">ω</text></g>
</g>
<rect x="351" y="248.11" width="1" height="2.82" fill="#000"/>
<g transform="translate(433.02,333.00)" font-size="9.96" fill="#000" stroke="#000" stroke-width="0.20"><text x="0.03" textLength="6.37" lengthAdjust="spacingAndGlyphs">Λ</text></g>
<g transform="translate(440.20,334.60)" font-size="6.97" fill="#000" stroke="#000" stroke-width="0.20" font-style="italic"><text x="0.23" textLength="4.80" lengthAdjust="spacingAndGlyphs">w</text></g>
<rect x="435.67" y="324" width="2.73" height="1" fill="#000"/>
<g transform="translate(537.50,331.40)">
<g transform="translate(0.00,0.00)" font-size="9.96" fill="#000" stroke="#000" stroke-width="0.20" font-style="italic"><text x="-2.90" textLength="5.64" lengthAdjust="spacingAndGlyphs">μ</text></g>
</g>
<rect x="536.82" y="324" width="2.82" height="1" fill="#000"/>
<g transform="translate(635.30,333.50)">
<g transform="translate(0.00,0.00)" font-size="9.96" fill="#000" stroke="#000" stroke-width="0.20" font-style="italic"><text x="-3.73" textLength="7.41" lengthAdjust="spacingAndGlyphs">ω</text></g>
</g>
<rect x="634.87" y="326" width="2.82" height="1" fill="#000"/>
<rect x="276.60" y="0.40" width="56.60" height="13.30" rx="1.5" fill="#fff" fill-opacity="0.8" stroke="#d9d9d9" stroke-width="0.8"/>
<rect x="279.00" y="3.90" width="16" height="5.8" fill="#D42C1E"/>
<g transform="translate(300.00,9.40)" font-size="7.84" fill="#222" stroke="#222" stroke-width="0.20"><text x="0.12" textLength="6.15" lengthAdjust="spacingAndGlyphs">M</text><text x="6.46">o</text><text x="10.98">d</text><text x="15.68">e</text><text x="20.35" textLength="1.68" lengthAdjust="spacingAndGlyphs">l</text><text x="24.61" textLength="4.97" lengthAdjust="spacingAndGlyphs">A</text></g>
<rect x="628.50" y="1.90" width="61.50" height="23.50" rx="1.5" fill="#fff" fill-opacity="0.8" stroke="#d9d9d9" stroke-width="0.8"/>
<rect x="630.90" y="5.10" width="16" height="5.8" fill="#D42C1E"/>
<g transform="translate(652.00,10.50)" font-size="7.84" fill="#222" stroke="#222" stroke-width="0.20"><text x="0.12" textLength="6.15" lengthAdjust="spacingAndGlyphs">M</text><text x="6.46">o</text><text x="10.98">d</text><text x="15.68">e</text><text x="20.35" textLength="1.68" lengthAdjust="spacingAndGlyphs">l</text><text x="24.61" textLength="4.97" lengthAdjust="spacingAndGlyphs">A</text></g>
<rect x="630.90" y="15.90" width="16" height="5.8" fill="#2F79BF"/>
<g transform="translate(652.00,21.10)" font-size="7.84" fill="#222" stroke="#222" stroke-width="0.20"><text x="0.12" textLength="6.15" lengthAdjust="spacingAndGlyphs">M</text><text x="6.46">o</text><text x="10.98">d</text><text x="15.68">e</text><text x="20.35" textLength="1.68" lengthAdjust="spacingAndGlyphs">l</text><text x="24.71" textLength="4.80" lengthAdjust="spacingAndGlyphs">B</text></g>
</svg>
</body></html>
